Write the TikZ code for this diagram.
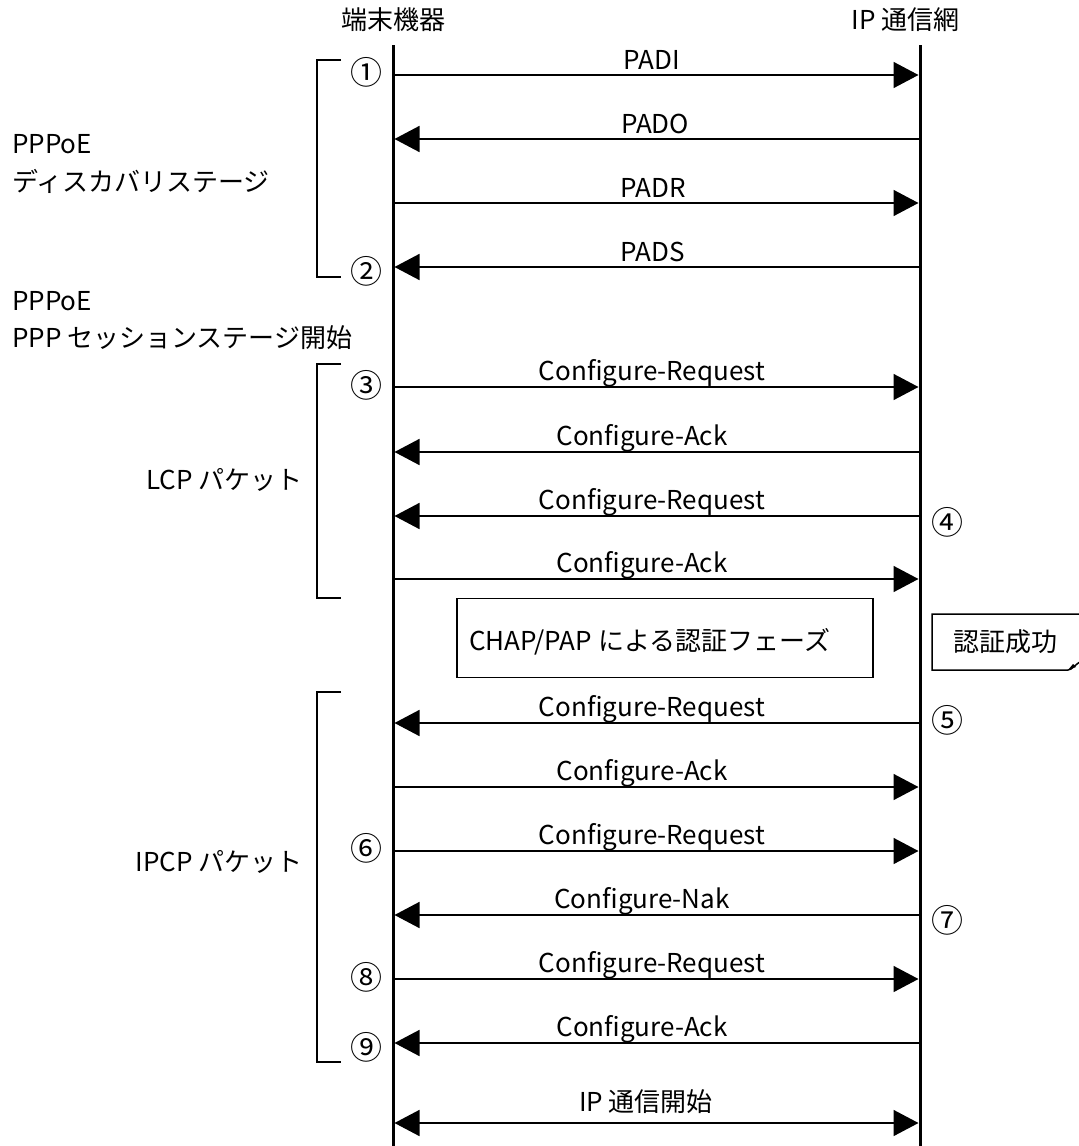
\documentclass[tikz,border=0pt]{standalone}
\usepackage{fontspec}
\setmainfont{Noto Sans CJK JP}
\usetikzlibrary{arrows.meta}
\newcommand\fsz{\fontsize{26}{32}\selectfont}
\newcommand\nsz{\fontsize{32}{36}\selectfont}
\tikzset{
  life/.style={line width=3pt},
  tipx/.tip={Triangle[length=25pt,width=26pt]},
  msg/.style={line width=1.6pt,-tipx},
  msgb/.style={line width=1.6pt,tipx-tipx},
  lbl/.style={anchor=base,inner sep=0pt,font=\fsz},
  txt/.style={inner sep=0pt,font=\fsz},
  num/.style={inner sep=0pt,font=\nsz},
  brk/.style={line width=2.5pt},
  box/.style={draw,line width=1.5pt,inner sep=0pt},
}
\begin{document}
\begin{tikzpicture}[x=1pt,y=-1pt]
\useasboundingbox[fill=white] (0,0) rectangle (1079,1146);

% lifelines
\coordinate (Ltop) at (393,45); \coordinate (Lbot) at (393,1146);
\coordinate (Rtop) at (920,45); \coordinate (Rbot) at (920,1146);
\draw[life] (Ltop) -- (Lbot);
\draw[life] (Rtop) -- (Rbot);

% headers
\node[txt] (hL) at (393,20) {端末機器};
\node[txt,anchor=east] (hR) at (960,20) {IP 通信網};

% message end coordinates
\foreach \i/\y in {1/75,2/139,3/203,4/267,5/387,6/452,7/516,8/579,9/723,10/787,11/851,12/915,13/979,14/1043,15/1123}{
  \coordinate (m\i L) at (394.5,\y);
  \coordinate (m\i R) at (918.5,\y);
}

% messages
\draw[msg] (m1L) -- (m1R);
\draw[msg] (m2R) -- (m2L);
\draw[msg] (m3L) -- (m3R);
\draw[msg] (m4R) -- (m4L);
\draw[msg] (m5L) -- (m5R);
\draw[msg] (m6R) -- (m6L);
\draw[msg] (m7R) -- (m7L);
\draw[msg] (m8L) -- (m8R);
\draw[msg] (m9R) -- (m9L);
\draw[msg] (m10L) -- (m10R);
\draw[msg] (m11L) -- (m11R);
\draw[msg] (m12R) -- (m12L);
\draw[msg] (m13L) -- (m13R);
\draw[msg] (m14R) -- (m14L);
\draw[msgb] (m15L) -- (m15R);

% message labels
\node[lbl] (t1) at (652,69) {PADI};
\node[lbl] (t2) at (655,133) {PADO};
\node[lbl] (t3) at (653,197) {PADR};
\node[lbl] (t4) at (653,261) {PADS};
\node[lbl] (t5) at (652,380) {Configure-Request};
\node[lbl] (t6) at (642,445) {Configure-Ack};
\node[lbl] (t7) at (652,509) {Configure-Request};
\node[lbl] (t8) at (642,572) {Configure-Ack};
\node[lbl] (t9) at (652,716) {Configure-Request};
\node[lbl] (t10) at (642,780) {Configure-Ack};
\node[lbl] (t11) at (652,844) {Configure-Request};
\node[lbl] (t12) at (642,908) {Configure-Nak};
\node[lbl] (t13) at (652,972) {Configure-Request};
\node[lbl] (t14) at (642,1036) {Configure-Ack};
\node[lbl] (t15) at (646,1111) {IP 通信開始};

% circled numbers
\node[num] (c1) at (366,72) {①};
\node[num] (c2) at (366,271) {②};
\node[num] (c3) at (366,385) {③};
\node[num] (c4) at (947,522) {④};
\node[num] (c5) at (947,720) {⑤};
\node[num] (c6) at (366,848) {⑥};
\node[num] (c7) at (947,920) {⑦};
\node[num] (c8) at (366,977) {⑧};
\node[num] (c9) at (366,1047) {⑨};

% brackets
\draw[brk] (341,60) -- (317,60) -- (317,277) -- (341,277);
\draw[brk] (341,364) -- (317,364) -- (317,598) -- (341,598);
\draw[brk] (341,692) -- (317,692) -- (317,1062) -- (341,1062);

% stage texts
\node[txt,anchor=west] (s1a) at (12,144) {PPPoE};
\node[txt,anchor=west] (s1b) at (12,181) {ディスカバリステージ};
\node[txt,anchor=west] (s2a) at (12,301) {PPPoE};
\node[txt,anchor=west] (s2b) at (12,338) {PPP セッションステージ開始};
\node[txt,anchor=east] (lcp) at (303,480) {LCP パケット};
\node[txt,anchor=east] (ipcp) at (303,862) {IPCP パケット};

% authentication phase box
\node[box,minimum width=416pt,minimum height=79pt] (auth) at (665,638) {};
\node[txt,anchor=west] (authT) at (469,642) {CHAP/PAP による認証フェーズ};

% note: authentication success
\draw[line width=1.5pt] (1082,614) -- (932,614) -- (932,670) -- (1068,670)
  .. controls (1072,670) and (1075,664) .. (1082,661);
\fill (1068,670) -- (1073,664) -- (1076,667) -- cycle;
\node[txt] (ok) at (1005,642) {認証成功};
\end{tikzpicture}
\end{document}
